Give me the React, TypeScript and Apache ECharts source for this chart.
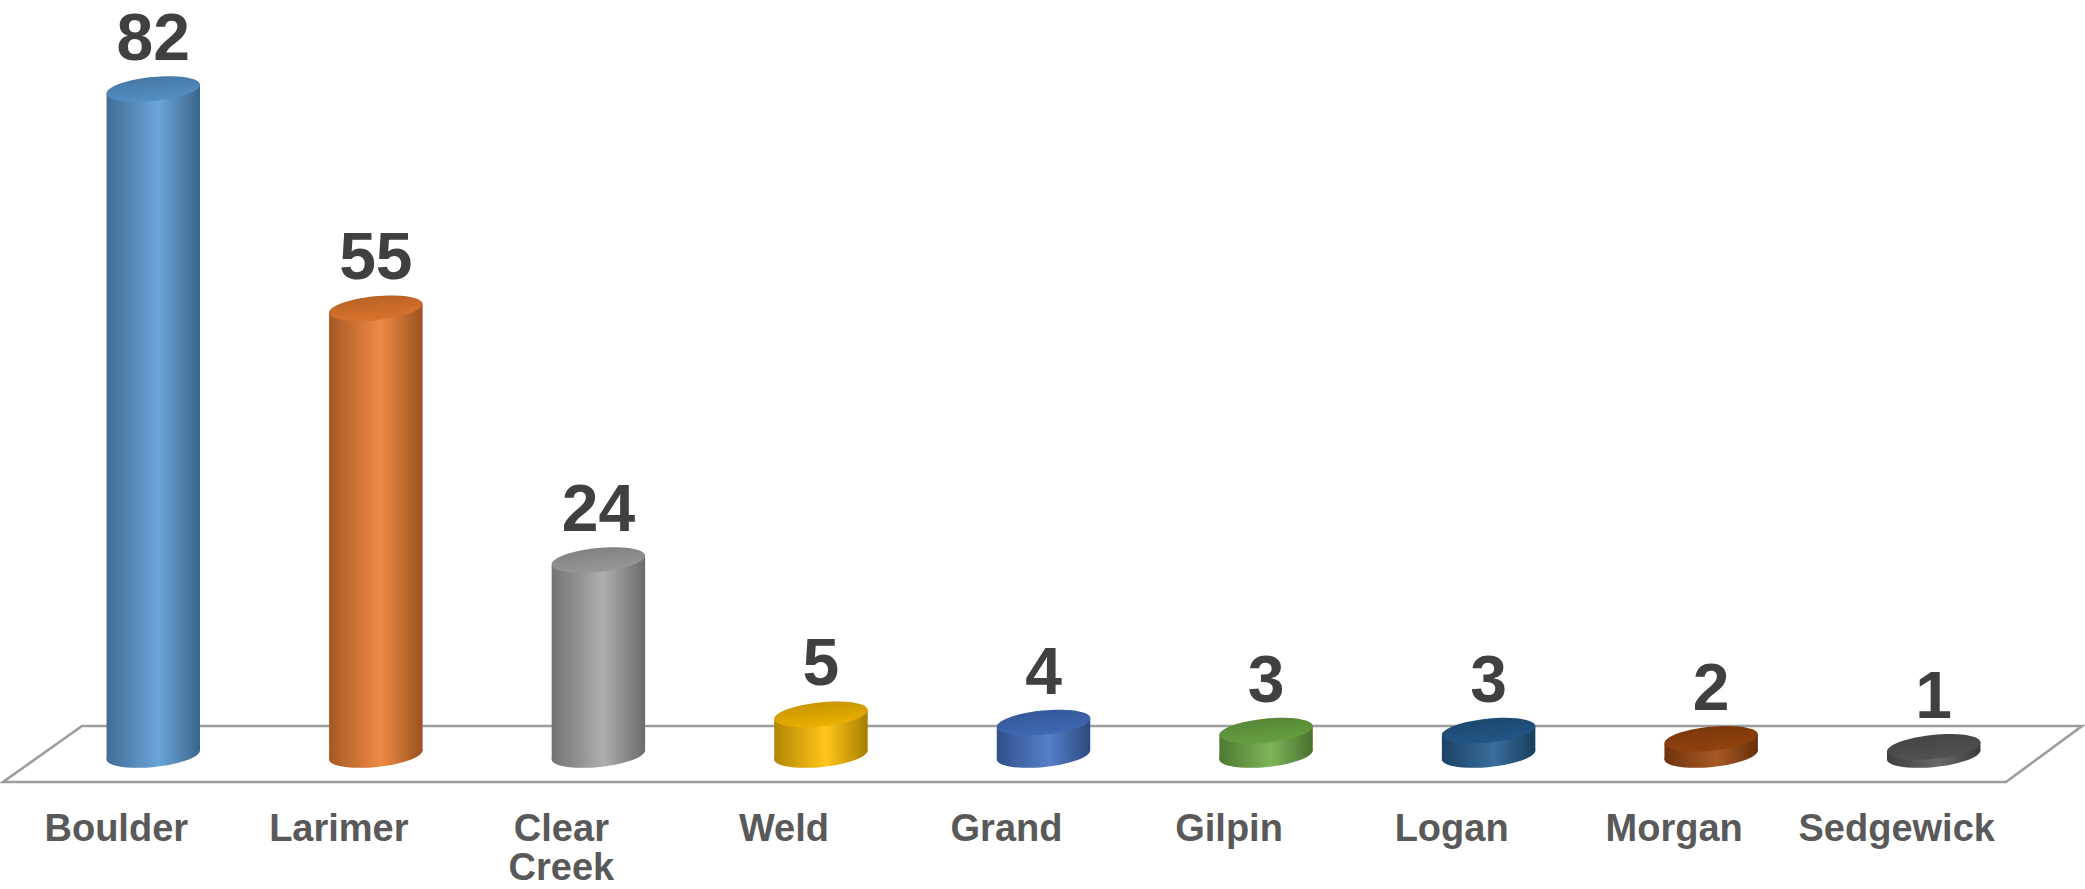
import React, { useEffect, useRef } from "react";
import * as echarts from "echarts";

const categories = ["Boulder", "Larimer", "Clear Creek", "Weld", "Grand", "Gilpin", "Logan", "Morgan", "Sedgewick"];
const values = [82, 55, 24, 5, 4, 3, 3, 2, 1];
const barColors = ["#5B9BD5", "#ED7D31", "#A5A5A5", "#FFC000", "#4472C4", "#70AD47", "#255E91", "#9E480E", "#585858"];

function shade(hex: string, p: number): string {
  const n = parseInt(hex.slice(1), 16);
  let r = (n >> 16) & 255, g = (n >> 8) & 255, b = n & 255;
  if (p < 0) {
    r *= 1 + p; g *= 1 + p; b *= 1 + p;
  } else {
    r += (255 - r) * p; g += (255 - g) * p; b += (255 - b) * p;
  }
  return `rgb(${Math.round(r)},${Math.round(g)},${Math.round(b)})`;
}

export default function App() {
  const ref = useRef<HTMLDivElement>(null);
  useEffect(() => {
    if (!ref.current) return;
    const chart = echarts.init(ref.current, undefined, { renderer: "svg" });
    const option: any = {
      animation: false,
      backgroundColor: "#ffffff",
      grid: { left: 42, right: 40, top: 24, bottom: 134, containLabel: false, outerBoundsMode: "none" },
      graphic: [
        {
          type: "polygon",
          z: 0,
          shape: { points: [[82, 726], [2082, 726], [2006, 782], [3, 782]] },
          style: { fill: "none", stroke: "#9d9d9d", lineWidth: 2.6 },
        },
      ],
      xAxis: {
        type: "category",
        data: categories,
        axisLine: { show: false },
        axisTick: { show: false },
        splitLine: { show: false },
        axisLabel: {
          interval: 0,
          margin: 53,
          fontSize: 38,
          fontWeight: "bold",
          fontFamily: "Liberation Sans, Arial, sans-serif",
          color: "#595959",
          lineHeight: 39,
          padding: [0, 74, 0, 0],
          formatter: (v: string) => v.replace(" ", "\n"),
        },
      },
      yAxis: {
        type: "value",
        min: 0,
        max: 90,
        show: false,
        splitLine: { show: false },
      },
      series: [
        {
          type: "custom",
          z: 5,
          data: values.map((v, i) => [i, v]),
          renderItem: (params: any, api: any) => {
            const idx = api.value(0);
            const v = api.value(1);
            const p = api.coord([idx, v]);
            const cx = p[0], ty = p[1];
            const by = api.coord([idx, 0])[1];
            const band = api.size([1, 0])[0];
            const rx = band * 0.211;
            const ry = band * 0.054;
            const th = 0.1;
            const c = Math.cos(th), s = Math.sin(th);
            const base = barColors[params.dataIndex];
            const side = new echarts.graphic.LinearGradient(0, 0, 1, 0, [
              { offset: 0, color: shade(base, -0.3) },
              { offset: 0.55, color: shade(base, 0.1) },
              { offset: 1, color: shade(base, -0.35) },
            ]);
            const topFill = new echarts.graphic.LinearGradient(0, 0, 0, 1, [
              { offset: 0, color: shade(base, -0.22) },
              { offset: 1, color: shade(base, -0.08) },
            ]);
            return {
              type: "group",
              children: [
                { type: "ellipse", x: cx, y: by, rotation: th, shape: { cx: 0, cy: 0, rx, ry }, style: { fill: side } },
                {
                  type: "polygon",
                  shape: {
                    points: [
                      [cx - rx * c, ty + rx * s],
                      [cx + rx * c, ty - rx * s],
                      [cx + rx * c, by - rx * s],
                      [cx - rx * c, by + rx * s],
                    ],
                  },
                  style: { fill: side },
                },
                { type: "ellipse", x: cx, y: ty, rotation: th, shape: { cx: 0, cy: 0, rx, ry }, style: { fill: topFill } },
                {
                  type: "text",
                  x: cx,
                  y: ty - 24,
                  style: {
                    text: String(v),
                    align: "center",
                    verticalAlign: "bottom",
                    fontSize: 66,
                    lineHeight: 56,
                    fontWeight: "bold",
                    fontFamily: "Liberation Sans, Arial, sans-serif",
                    fill: "#404040",
                  },
                },
              ],
            };
          },
        },
      ],
    };
    chart.setOption(option);
    return () => chart.dispose();
  }, []);
  return <div ref={ref} style={{ position: "absolute", left: 0, top: 0, width: 2085, height: 889 }} />;
}
